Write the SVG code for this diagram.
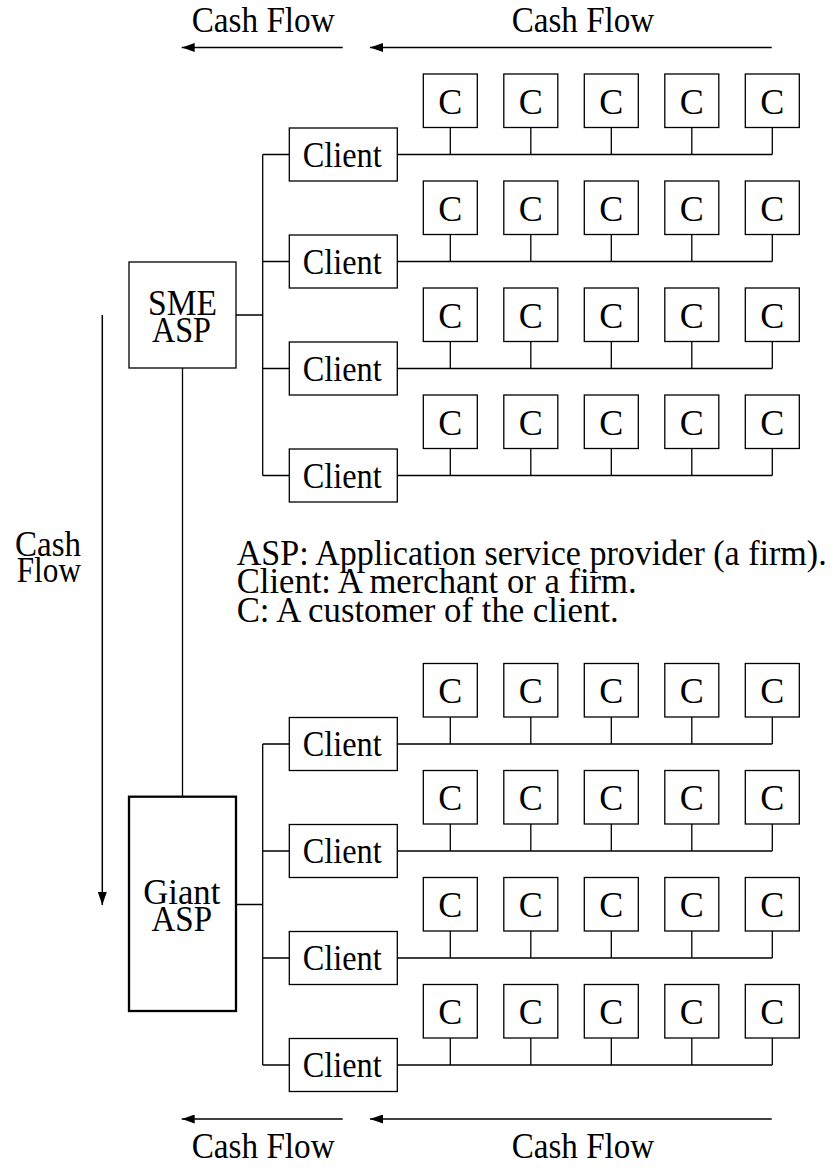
<svg xmlns="http://www.w3.org/2000/svg" width="833" height="1173" viewBox="0 0 833 1173">
<style>
.t{font-family:"Liberation Serif","Times New Roman",serif;font-size:36px;fill:#000}
.m{text-anchor:middle}
.b{fill:#fff;stroke:#000;stroke-width:1.3}
.g{fill:#fff;stroke:#000;stroke-width:2.3}
.w{fill:none;stroke:#000;stroke-width:1.3}
.a{fill:none;stroke:#000;stroke-width:1.5}
</style>
<defs>
<marker id="ah" markerWidth="13" markerHeight="9" refX="13" refY="4.5" orient="auto" markerUnits="userSpaceOnUse"><path d="M0,0 L13,4.5 L0,9 z" fill="#000"/></marker>
</defs>
<rect width="833" height="1173" fill="#fff"/>
<g id="connectors">
<path class="w" d="M236,315H262.7M262.7,154.5V475.5M262.7,154.5H289.3M262.7,261.5H289.3M262.7,368.5H289.3M262.7,475.5H289.3"/>
<path class="w" d="M236,904.5H262.7M262.7,744V1065M262.7,744H289.3M262.7,851H289.3M262.7,958H289.3M262.7,1065H289.3"/>
<path class="w" d="M182.5,368V796.7"/>
<path class="w" d="M397.3,154.5H772.3M450.3,127.5V154.5M530.8,127.5V154.5M611.3,127.5V154.5M691.8,127.5V154.5M772.3,127.5V154.5"/>
<path class="w" d="M397.3,261.5H772.3M450.3,234.5V261.5M530.8,234.5V261.5M611.3,234.5V261.5M691.8,234.5V261.5M772.3,234.5V261.5"/>
<path class="w" d="M397.3,368.5H772.3M450.3,341.5V368.5M530.8,341.5V368.5M611.3,341.5V368.5M691.8,341.5V368.5M772.3,341.5V368.5"/>
<path class="w" d="M397.3,475.5H772.3M450.3,448.5V475.5M530.8,448.5V475.5M611.3,448.5V475.5M691.8,448.5V475.5M772.3,448.5V475.5"/>
<path class="w" d="M397.3,744H772.3M450.3,717V744M530.8,717V744M611.3,717V744M691.8,717V744M772.3,717V744"/>
<path class="w" d="M397.3,851H772.3M450.3,824V851M530.8,824V851M611.3,824V851M691.8,824V851M772.3,824V851"/>
<path class="w" d="M397.3,958H772.3M450.3,931V958M530.8,931V958M611.3,931V958M691.8,931V958M772.3,931V958"/>
<path class="w" d="M397.3,1065H772.3M450.3,1038V1065M530.8,1038V1065M611.3,1038V1065M691.8,1038V1065M772.3,1038V1065"/>
<line class="a" x1="342.7" y1="47.5" x2="181.7" y2="47.5" marker-end="url(#ah)"/>
<line class="a" x1="771.7" y1="47.5" x2="370" y2="47.5" marker-end="url(#ah)"/>
<line class="a" x1="342.7" y1="1119" x2="181.7" y2="1119" marker-end="url(#ah)"/>
<line class="a" x1="771.7" y1="1119" x2="370" y2="1119" marker-end="url(#ah)"/>
<line class="a" x1="102.3" y1="315" x2="102.3" y2="905" marker-end="url(#ah)"/>
</g>
<g id="labels">
<text class="t" x="191.7" y="32.3" textLength="143" lengthAdjust="spacingAndGlyphs">Cash Flow</text>
<text class="t" x="511.7" y="32.3" textLength="142.5" lengthAdjust="spacingAndGlyphs">Cash Flow</text>
<text class="t" x="191.7" y="1158" textLength="143" lengthAdjust="spacingAndGlyphs">Cash Flow</text>
<text class="t" x="511.7" y="1158" textLength="142.5" lengthAdjust="spacingAndGlyphs">Cash Flow</text>
<text class="t" x="15" y="556" textLength="66" lengthAdjust="spacingAndGlyphs">Cash</text>
<text class="t" x="16.7" y="581.7" textLength="64.3" lengthAdjust="spacingAndGlyphs">Flow</text>
</g>
<g id="legend">
<text class="t" x="236.7" y="565" textLength="590" lengthAdjust="spacingAndGlyphs">ASP: Application service provider (a firm).</text>
<text class="t" x="236.7" y="593.3" textLength="400" lengthAdjust="spacingAndGlyphs">Client: A merchant or a firm.</text>
<text class="t" x="236.7" y="621.5" textLength="382" lengthAdjust="spacingAndGlyphs">C: A customer of the client.</text>
</g>
<g id="sme-asp"><rect class="b" x="129" y="262" width="107" height="106"/><text class="t" x="148" y="315" textLength="69" lengthAdjust="spacingAndGlyphs">SME</text><text class="t" x="152" y="341.7" textLength="59" lengthAdjust="spacingAndGlyphs">ASP</text></g>
<g id="giant-asp"><rect class="g" x="129" y="796.7" width="107" height="214.3"/><text class="t" x="143.3" y="904" textLength="77" lengthAdjust="spacingAndGlyphs">Giant</text><text class="t" x="151.5" y="930.7" textLength="60.5" lengthAdjust="spacingAndGlyphs">ASP</text></g>
<g id="client-t1"><rect class="b" x="289.3" y="128" width="108" height="53"/><text class="t" x="302.7" y="166.5" textLength="79" lengthAdjust="spacingAndGlyphs">Client</text></g>
<g id="client-t2"><rect class="b" x="289.3" y="235" width="108" height="53"/><text class="t" x="302.7" y="273.5" textLength="79" lengthAdjust="spacingAndGlyphs">Client</text></g>
<g id="client-t3"><rect class="b" x="289.3" y="342" width="108" height="53"/><text class="t" x="302.7" y="380.5" textLength="79" lengthAdjust="spacingAndGlyphs">Client</text></g>
<g id="client-t4"><rect class="b" x="289.3" y="449" width="108" height="53"/><text class="t" x="302.7" y="487.5" textLength="79" lengthAdjust="spacingAndGlyphs">Client</text></g>
<g id="client-b1"><rect class="b" x="289.3" y="717.5" width="108" height="53"/><text class="t" x="302.7" y="756" textLength="79" lengthAdjust="spacingAndGlyphs">Client</text></g>
<g id="client-b2"><rect class="b" x="289.3" y="824.5" width="108" height="53"/><text class="t" x="302.7" y="863" textLength="79" lengthAdjust="spacingAndGlyphs">Client</text></g>
<g id="client-b3"><rect class="b" x="289.3" y="931.5" width="108" height="53"/><text class="t" x="302.7" y="970" textLength="79" lengthAdjust="spacingAndGlyphs">Client</text></g>
<g id="client-b4"><rect class="b" x="289.3" y="1038.5" width="108" height="53"/><text class="t" x="302.7" y="1077" textLength="79" lengthAdjust="spacingAndGlyphs">Client</text></g>
<g id="c-t1-1"><rect class="b" x="423.3" y="74" width="54" height="53.5"/><text class="t m" x="450.3" y="113.8">C</text></g>
<g id="c-t1-2"><rect class="b" x="503.8" y="74" width="54" height="53.5"/><text class="t m" x="530.8" y="113.8">C</text></g>
<g id="c-t1-3"><rect class="b" x="584.3" y="74" width="54" height="53.5"/><text class="t m" x="611.3" y="113.8">C</text></g>
<g id="c-t1-4"><rect class="b" x="664.8" y="74" width="54" height="53.5"/><text class="t m" x="691.8" y="113.8">C</text></g>
<g id="c-t1-5"><rect class="b" x="745.3" y="74" width="54" height="53.5"/><text class="t m" x="772.3" y="113.8">C</text></g>
<g id="c-t2-1"><rect class="b" x="423.3" y="181" width="54" height="53.5"/><text class="t m" x="450.3" y="220.8">C</text></g>
<g id="c-t2-2"><rect class="b" x="503.8" y="181" width="54" height="53.5"/><text class="t m" x="530.8" y="220.8">C</text></g>
<g id="c-t2-3"><rect class="b" x="584.3" y="181" width="54" height="53.5"/><text class="t m" x="611.3" y="220.8">C</text></g>
<g id="c-t2-4"><rect class="b" x="664.8" y="181" width="54" height="53.5"/><text class="t m" x="691.8" y="220.8">C</text></g>
<g id="c-t2-5"><rect class="b" x="745.3" y="181" width="54" height="53.5"/><text class="t m" x="772.3" y="220.8">C</text></g>
<g id="c-t3-1"><rect class="b" x="423.3" y="288" width="54" height="53.5"/><text class="t m" x="450.3" y="327.8">C</text></g>
<g id="c-t3-2"><rect class="b" x="503.8" y="288" width="54" height="53.5"/><text class="t m" x="530.8" y="327.8">C</text></g>
<g id="c-t3-3"><rect class="b" x="584.3" y="288" width="54" height="53.5"/><text class="t m" x="611.3" y="327.8">C</text></g>
<g id="c-t3-4"><rect class="b" x="664.8" y="288" width="54" height="53.5"/><text class="t m" x="691.8" y="327.8">C</text></g>
<g id="c-t3-5"><rect class="b" x="745.3" y="288" width="54" height="53.5"/><text class="t m" x="772.3" y="327.8">C</text></g>
<g id="c-t4-1"><rect class="b" x="423.3" y="395" width="54" height="53.5"/><text class="t m" x="450.3" y="434.8">C</text></g>
<g id="c-t4-2"><rect class="b" x="503.8" y="395" width="54" height="53.5"/><text class="t m" x="530.8" y="434.8">C</text></g>
<g id="c-t4-3"><rect class="b" x="584.3" y="395" width="54" height="53.5"/><text class="t m" x="611.3" y="434.8">C</text></g>
<g id="c-t4-4"><rect class="b" x="664.8" y="395" width="54" height="53.5"/><text class="t m" x="691.8" y="434.8">C</text></g>
<g id="c-t4-5"><rect class="b" x="745.3" y="395" width="54" height="53.5"/><text class="t m" x="772.3" y="434.8">C</text></g>
<g id="c-b1-1"><rect class="b" x="423.3" y="663.5" width="54" height="53.5"/><text class="t m" x="450.3" y="703.3">C</text></g>
<g id="c-b1-2"><rect class="b" x="503.8" y="663.5" width="54" height="53.5"/><text class="t m" x="530.8" y="703.3">C</text></g>
<g id="c-b1-3"><rect class="b" x="584.3" y="663.5" width="54" height="53.5"/><text class="t m" x="611.3" y="703.3">C</text></g>
<g id="c-b1-4"><rect class="b" x="664.8" y="663.5" width="54" height="53.5"/><text class="t m" x="691.8" y="703.3">C</text></g>
<g id="c-b1-5"><rect class="b" x="745.3" y="663.5" width="54" height="53.5"/><text class="t m" x="772.3" y="703.3">C</text></g>
<g id="c-b2-1"><rect class="b" x="423.3" y="770.5" width="54" height="53.5"/><text class="t m" x="450.3" y="810.3">C</text></g>
<g id="c-b2-2"><rect class="b" x="503.8" y="770.5" width="54" height="53.5"/><text class="t m" x="530.8" y="810.3">C</text></g>
<g id="c-b2-3"><rect class="b" x="584.3" y="770.5" width="54" height="53.5"/><text class="t m" x="611.3" y="810.3">C</text></g>
<g id="c-b2-4"><rect class="b" x="664.8" y="770.5" width="54" height="53.5"/><text class="t m" x="691.8" y="810.3">C</text></g>
<g id="c-b2-5"><rect class="b" x="745.3" y="770.5" width="54" height="53.5"/><text class="t m" x="772.3" y="810.3">C</text></g>
<g id="c-b3-1"><rect class="b" x="423.3" y="877.5" width="54" height="53.5"/><text class="t m" x="450.3" y="917.3">C</text></g>
<g id="c-b3-2"><rect class="b" x="503.8" y="877.5" width="54" height="53.5"/><text class="t m" x="530.8" y="917.3">C</text></g>
<g id="c-b3-3"><rect class="b" x="584.3" y="877.5" width="54" height="53.5"/><text class="t m" x="611.3" y="917.3">C</text></g>
<g id="c-b3-4"><rect class="b" x="664.8" y="877.5" width="54" height="53.5"/><text class="t m" x="691.8" y="917.3">C</text></g>
<g id="c-b3-5"><rect class="b" x="745.3" y="877.5" width="54" height="53.5"/><text class="t m" x="772.3" y="917.3">C</text></g>
<g id="c-b4-1"><rect class="b" x="423.3" y="984.5" width="54" height="53.5"/><text class="t m" x="450.3" y="1024.3">C</text></g>
<g id="c-b4-2"><rect class="b" x="503.8" y="984.5" width="54" height="53.5"/><text class="t m" x="530.8" y="1024.3">C</text></g>
<g id="c-b4-3"><rect class="b" x="584.3" y="984.5" width="54" height="53.5"/><text class="t m" x="611.3" y="1024.3">C</text></g>
<g id="c-b4-4"><rect class="b" x="664.8" y="984.5" width="54" height="53.5"/><text class="t m" x="691.8" y="1024.3">C</text></g>
<g id="c-b4-5"><rect class="b" x="745.3" y="984.5" width="54" height="53.5"/><text class="t m" x="772.3" y="1024.3">C</text></g>
</svg>
